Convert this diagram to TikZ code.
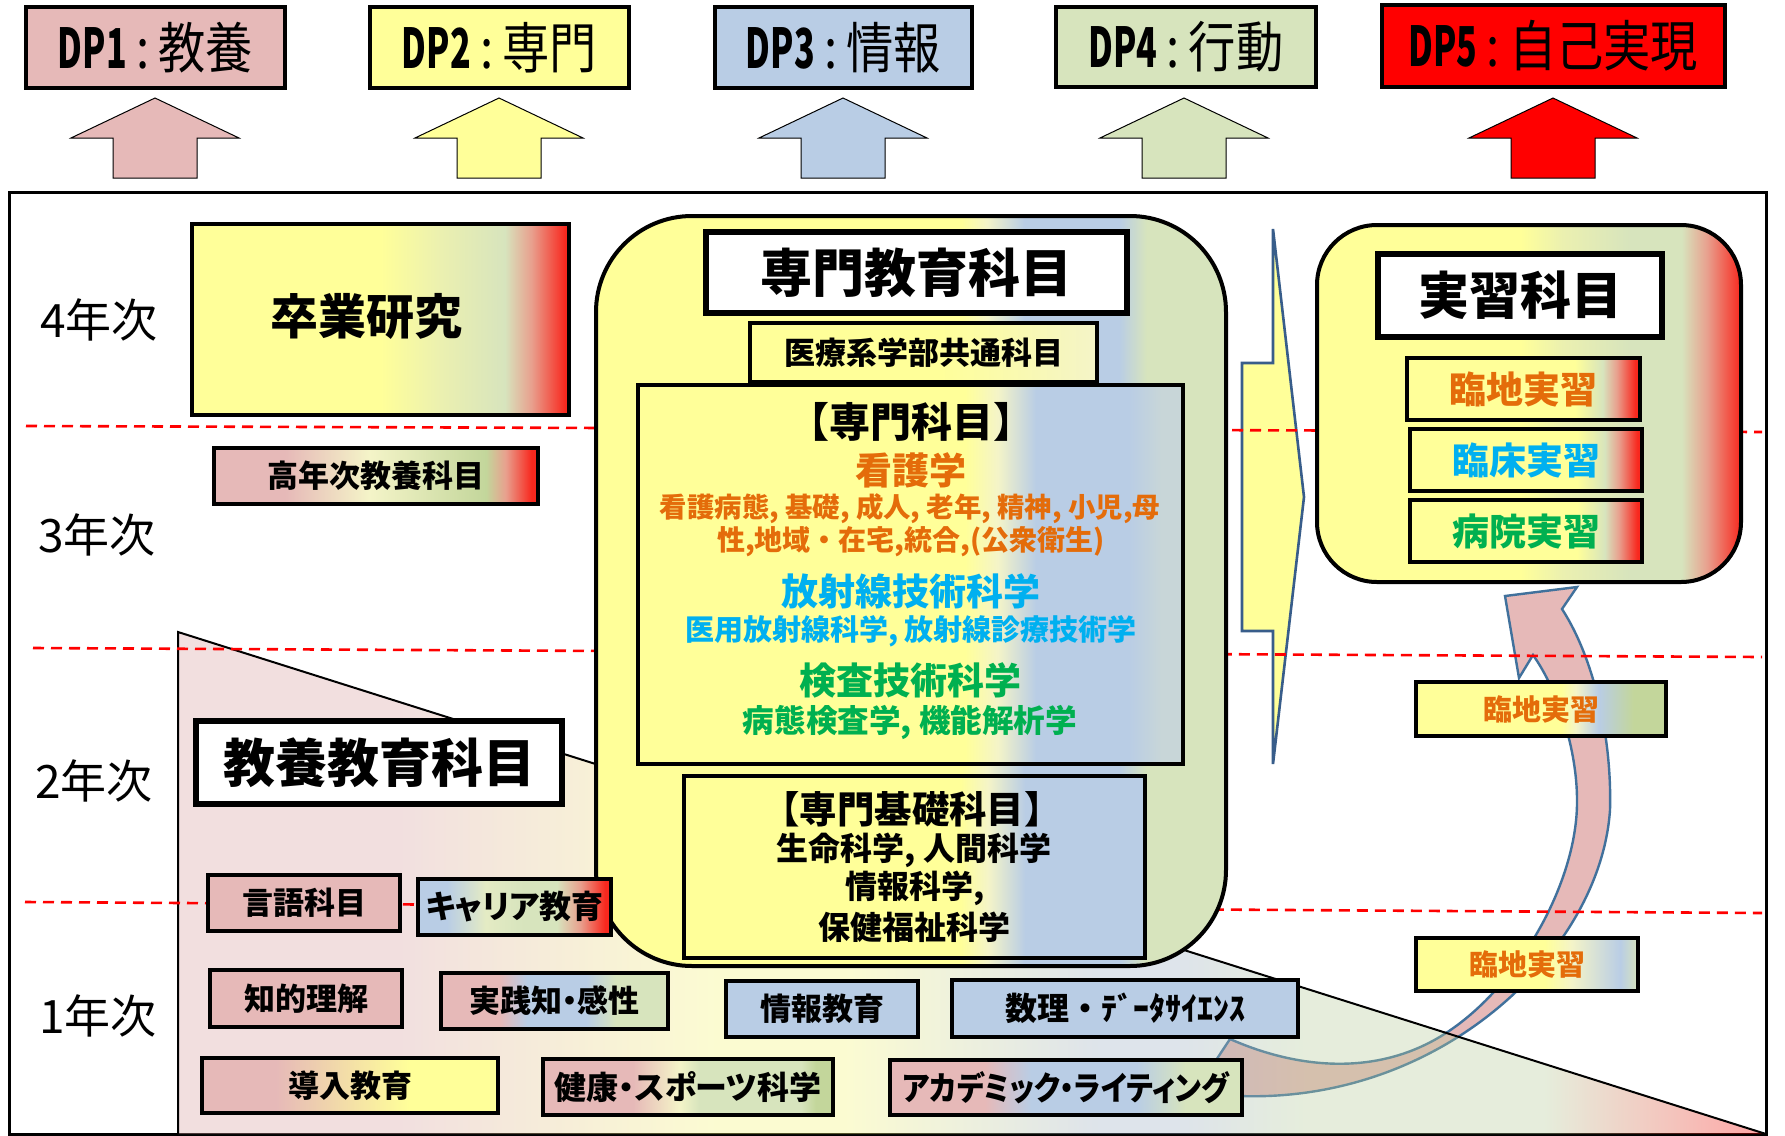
\documentclass[tikz,border=0pt]{standalone}
\usepackage{fontspec}
\usepackage{graphicx}
\setmainfont{Noto Sans CJK JP}
\newfontfamily\jpp[RawFeature=+palt]{Noto Sans CJK JP}
\newfontfamily\jpn[FakeStretch=0.86]{Noto Sans CJK JP}

\definecolor{pk}{HTML}{E6B9B8}
\definecolor{yl}{HTML}{FFFF99}
\definecolor{bl}{HTML}{B9CDE5}
\definecolor{gn}{HTML}{D7E4BD}
\definecolor{gnb}{HTML}{C3D69B}
\definecolor{rd}{HTML}{FF0000}
\definecolor{rdb}{HTML}{F8281E}
\definecolor{slm}{HTML}{E8A08E}
\definecolor{lt}{HTML}{F4F4C8}
\definecolor{ylg}{HTML}{EBF0B0}
\definecolor{ylgb}{HTML}{E4EBC4}
\definecolor{bgy}{HTML}{C8D6D8}
\definecolor{tpk}{HTML}{DAA6A6}
\definecolor{tyl}{HTML}{F6F67E}
\definecolor{tbl}{HTML}{A1B2C6}
\definecolor{tgn}{HTML}{B8CE9B}
\definecolor{orn}{HTML}{E46C0A}
\definecolor{cyn}{HTML}{00B0F0}
\definecolor{grn}{HTML}{00B050}
\definecolor{abl}{HTML}{41719C}
\definecolor{chv}{HTML}{385D8A}
\definecolor{dashred}{HTML}{FF0000}

\pgfdeclarehorizontalshading{shSotsu}{100bp}{color(0bp)=(yl); color(50bp)=(yl); color(58bp)=(ylg); color(66.5bp)=(gn); color(70bp)=(slm); color(74.5bp)=(rdb); color(100bp)=(rdb)}
\pgfdeclarehorizontalshading{shKounen}{100bp}{color(0bp)=(pk); color(36bp)=(pk); color(49bp)=(lt); color(67bp)=(gnb); color(70bp)=(slm); color(74bp)=(rdb); color(100bp)=(rdb)}
\pgfdeclarehorizontalshading{shSenmon}{100bp}{color(0bp)=(yl); color(54bp)=(yl); color(56bp)=(lt); color(59bp)=(bl); color(66.5bp)=(bl); color(68.7bp)=(gn); color(100bp)=(gn)}
\pgfdeclarehorizontalshading{shIryo}{100bp}{color(0bp)=(yl); color(52bp)=(yl); color(75bp)=(lt); color(100bp)=(lt)}
\pgfdeclarehorizontalshading{shSenka}{100bp}{color(0bp)=(yl); color(55bp)=(yl); color(58bp)=(lt); color(61.5bp)=(bl); color(70bp)=(bl); color(73bp)=(bgy); color(100bp)=(bgy)}
\pgfdeclarehorizontalshading{shKiso}{100bp}{color(0bp)=(yl); color(55bp)=(yl); color(58bp)=(lt); color(62bp)=(bl); color(100bp)=(bl)}
\pgfdeclarehorizontalshading{shAcad}{100bp}{color(0bp)=(pk); color(38.5bp)=(pk); color(45bp)=(bl); color(60bp)=(bl); color(67bp)=(gn); color(100bp)=(gn)}
\pgfdeclarehorizontalshading{shKenko}{100bp}{color(0bp)=(pk); color(40.5bp)=(pk); color(48.5bp)=(lt); color(52bp)=(gn); color(69.5bp)=(gn); color(72bp)=(gnb); color(100bp)=(gnb)}
\pgfdeclarehorizontalshading{shJissen}{100bp}{color(0bp)=(pk); color(38bp)=(pk); color(44bp)=(bl); color(57bp)=(bl); color(63.5bp)=(gn); color(100bp)=(gn)}
\pgfdeclarehorizontalshading{shDonyu}{100bp}{color(0bp)=(pk); color(37.5bp)=(pk); color(60bp)=(yl); color(100bp)=(yl)}
\pgfdeclarehorizontalshading{shCareer}{100bp}{color(0bp)=(bl); color(32.5bp)=(bl); color(42.5bp)=(ylgb); color(52.5bp)=(gn); color(61bp)=(gn); color(67bp)=(slm); color(73.5bp)=(rdb); color(100bp)=(rdb)}
\pgfdeclarehorizontalshading{shJisshu}{100bp}{color(0bp)=(yl); color(49bp)=(yl); color(54bp)=(ylg); color(62bp)=(gn); color(68bp)=(gn); color(71bp)=(slm); color(75bp)=(rdb); color(100bp)=(rdb)}
\pgfdeclarehorizontalshading{shRin}{100bp}{color(0bp)=(yl); color(61bp)=(yl); color(67bp)=(gn); color(70bp)=(slm); color(74bp)=(rdb); color(100bp)=(rdb)}
\pgfdeclarehorizontalshading{shRinB}{100bp}{color(0bp)=(yl); color(54bp)=(yl); color(57bp)=(lt); color(61.5bp)=(bl); color(68.5bp)=(gnb); color(100bp)=(gnb)}
\pgfdeclarehorizontalshading{shRinC}{100bp}{color(0bp)=(yl); color(54bp)=(yl); color(60bp)=(lt); color(71bp)=(bl); color(75bp)=(gn); color(100bp)=(gn)}
\pgfdeclarehorizontalshading{shTrap}{100bp}{color(0bp)=(tpk); color(32bp)=(tpk); color(42bp)=(tyl); color(46bp)=(tyl); color(54bp)=(tbl); color(56.5bp)=(tbl); color(60.5bp)=(tgn); color(68bp)=(tgn); color(75bp)=(rd); color(100bp)=(rd)}

% box: name, x1, y1, x2, y2, style, text  (pixel coordinates)
\newcommand{\bx}[7]{\node[#6,inner sep=0pt,outer sep=0pt,minimum width={(#4-#2)*0.5pt},minimum height={(#5-#3)*0.5pt}] (#1) at ({(#2+#4)/2},{(#3+#5)/2}) {#7};}
\newcommand{\uparr}[2]{\draw[upar,fill=#2] (#1,98) -- ({#1+84},138) -- ({#1+42},138) -- ({#1+42},178) -- ({#1-42},178) -- ({#1-42},138) -- ({#1-84},138) -- cycle;}
\newcommand{\dptext}[2]{{\bfseries\scalebox{0.72}[1]{DP#1}}\,:\,#2}

\begin{document}
\begin{tikzpicture}[x=0.5pt,y=-0.5pt,
  bxs/.style={draw=black,line width=1.7pt},
  ttl/.style={draw=black,line width=2.6pt,fill=white},
  cont/.style={draw=black,line width=2pt},
  dpb/.style={draw=black,line width=2.3pt,font=\jpn\fontsize{27.5pt}{30pt}\selectfont},
  upar/.style={draw=black,line width=0.5pt},
  sm/.style={font=\bfseries\fontsize{15.5pt}{18pt}\selectfont},
  yr/.style={font=\fontsize{23pt}{26pt}\selectfont,inner sep=0pt},
  dl/.style={draw=dashred,line width=1.3pt,dash pattern=on 5.5pt off 3.5pt},
  tx/.style={inner sep=0pt,align=center}
]
\useasboundingbox (0,0) rectangle (1785,1136);
\fill[white] (0,0) rectangle (1785,1136);

% DP boxes
\bx{dp1}{26}{7}{285}{88}{dpb,fill=pk}{\dptext{1}{教養}}
\bx{dp2}{370}{7}{629}{88}{dpb,fill=yl}{\dptext{2}{専門}}
\bx{dp3}{715}{7}{972}{88}{dpb,fill=bl}{\dptext{3}{情報}}
\bx{dp4}{1056}{7}{1316}{87}{dpb,fill=gn}{\dptext{4}{行動}}
\bx{dp5}{1382}{5}{1725}{87}{dpb,fill=rd}{\dptext{5}{自己実現}}

% up block arrows
\uparr{155}{pk}
\uparr{499}{yl}
\uparr{843}{bl}
\uparr{1184}{gn}
\uparr{1553}{rd}

% frame
\draw[line width=1.5pt] (9,192) rectangle (1766,1134);

% curved arrow (behind the general-education wedge)
\draw[draw=abl,line width=1.2pt,fill=pk] (1505,596) -- (1577,587) -- (1562,609)
  .. controls (1595,660) and (1612,740) .. (1610,810)
  .. controls (1600,960) and (1420,1125) .. (1195,1092)
  -- (1230,1039)
  .. controls (1300,1070) and (1380,1076) .. (1446,1033)
  .. controls (1520,985) and (1578,880) .. (1577,800)
  .. controls (1577,750) and (1558,690) .. (1533,655)
  -- (1519,678) -- cycle;

% general education wedge
\shade[shading=shTrap,fill opacity=0.35] (178,632) -- (1766,1134) -- (178,1134) -- cycle;
\draw[line width=1pt] (178,1134) -- (178,632) -- (1766,1134);

% chevron arrow
\draw[draw=chv,line width=1.3pt,fill=yl] (1273,229) -- (1304,497) -- (1273,764) -- (1273,631) -- (1242,631) -- (1242,363) -- (1273,363) -- cycle;

% year separators
\draw[dl] (26,426) -- (1762,432);
\draw[dl] (33,648) -- (1762,657);
\draw[dl] (25,902) -- (1762,913);

% year labels
\node[yr] (y4) at (99,320) {4年次};
\node[yr] (y3) at (97,535) {3年次};
\node[yr] (y2) at (94,781) {2年次};
\node[yr] (y1) at (98,1016) {1年次};

% graduation research
\bx{sotsu}{192}{224}{569}{415}{draw=black,line width=2pt,shade,shading=shSotsu}{}
\node[tx,font=\bfseries\fontsize{24pt}{28pt}\selectfont] (tsotsu) at (366,316) {卒業研究};
\bx{kounen}{214}{448}{538}{504}{bxs,shade,shading=shKounen,sm}{高年次教養科目}

% specialised education container
\bx{senmon}{596}{216}{1226}{966}{cont,rounded corners=48pt,shade,shading=shSenmon}{}
\bx{senmonT}{706}{232}{1127}{313}{ttl,font=\bfseries\fontsize{26pt}{30pt}\selectfont}{専門教育科目}
\bx{iryo}{750}{323}{1097}{382}{bxs,shade,shading=shIryo,sm}{医療系学部共通科目}
\bx{senka}{638}{385}{1183}{764}{bxs,shade,shading=shSenka}{}
\node[tx,font=\bfseries\fontsize{20.5pt}{22pt}\selectfont] (tsenka) at (911,422) {【専門科目】};
\node[tx,text=orn,font=\bfseries\fontsize{18.5pt}{20pt}\selectfont] (tkango) at (911,470) {看護学};
\node[tx,text=orn,font=\bfseries\fontsize{13.7pt}{16pt}\selectfont] (tkango1) at (910,509) {看護病態, 基礎, 成人, 老年, 精神, 小児,母};
\node[tx,text=orn,font=\bfseries\fontsize{14pt}{16pt}\selectfont] (tkango2) at (911,542) {性,地域・在宅,統合,(公衆衛生)};
\node[tx,text=cyn,font=\bfseries\fontsize{18.5pt}{20pt}\selectfont] (thosha) at (911,591) {放射線技術科学};
\node[tx,text=cyn,font=\bfseries\fontsize{14.5pt}{16pt}\selectfont] (thosha1) at (911,631) {医用放射線科学, 放射線診療技術学};
\node[tx,text=grn,font=\bfseries\fontsize{18.5pt}{20pt}\selectfont] (tkensa) at (910,680) {検査技術科学};
\node[tx,text=grn,font=\bfseries\fontsize{15.8pt}{17pt}\selectfont] (tkensa1) at (910,722) {病態検査学, 機能解析学};
\bx{kiso}{684}{776}{1145}{958}{bxs,shade,shading=shKiso}{}
\node[tx,font=\bfseries\fontsize{18.7pt}{20pt}\selectfont] (tkiso) at (912,809) {【専門基礎科目】};
\node[tx,font=\bfseries\fontsize{16pt}{18pt}\selectfont] (tkiso1) at (914,850) {生命科学, 人間科学};
\node[tx,font=\bfseries\fontsize{16pt}{18pt}\selectfont] (tkiso2) at (915,888) {情報科学,};
\node[tx,font=\bfseries\fontsize{16pt}{18pt}\selectfont] (tkiso3) at (914,927) {保健福祉科学};

% practical training container
\bx{jisshu}{1317}{225}{1741}{582}{cont,rounded corners=30pt,shade,shading=shJisshu}{}
\bx{jisshuT}{1378}{254}{1662}{337}{ttl,font=\bfseries\fontsize{25.5pt}{30pt}\selectfont}{実習科目}
\bx{rin1}{1407}{358}{1640}{420}{bxs,shade,shading=shRin,text=orn,font=\bfseries\fontsize{18.5pt}{20pt}\selectfont}{臨地実習}
\bx{rin2}{1410}{429}{1642}{491}{bxs,shade,shading=shRin,text=cyn,font=\bfseries\fontsize{18.5pt}{20pt}\selectfont}{臨床実習}
\bx{rin3}{1410}{500}{1642}{562}{bxs,shade,shading=shRin,text=grn,font=\bfseries\fontsize{18.5pt}{20pt}\selectfont}{病院実習}
\bx{rinB}{1416}{682}{1666}{736}{bxs,shade,shading=shRinB,text=orn,font=\bfseries\fontsize{14.5pt}{16pt}\selectfont}{臨地実習}
\bx{rinC}{1416}{938}{1638}{991}{bxs,shade,shading=shRinC,text=orn,font=\bfseries\fontsize{14.5pt}{16pt}\selectfont}{臨地実習}

% general education
\bx{kyoyoT}{196}{721}{562}{804}{ttl,font=\bfseries\fontsize{26pt}{30pt}\selectfont}{教養教育科目}
\bx{gengo}{208}{875}{400}{931}{bxs,fill=pk,sm}{言語科目}
\bx{career}{418}{879}{611}{935}{bxs,shade,shading=shCareer,font=\jpp\bfseries\fontsize{16pt}{18pt}\selectfont}{キャリア教育}
\bx{chiteki}{210}{970}{402}{1027}{bxs,fill=pk,sm}{知的理解}
\bx{jissen}{441}{973}{668}{1029}{bxs,shade,shading=shJissen,font=\jpp\bfseries\fontsize{15.5pt}{18pt}\selectfont}{実践知・感性}
\bx{johoK}{726}{981}{918}{1037}{bxs,fill=bl,sm}{情報教育}
\bx{suri}{952}{980}{1298}{1037}{bxs,fill=bl,font=\bfseries\fontsize{16pt}{18pt}\selectfont}{数理・ﾃﾞｰﾀｻｲｴﾝｽ}
\bx{donyu}{202}{1058}{498}{1113}{bxs,shade,shading=shDonyu,sm}{導入教育}
\bx{kenko}{543}{1059}{833}{1115}{bxs,shade,shading=shKenko,font=\jpp\bfseries\fontsize{16pt}{18pt}\selectfont}{健康・スポーツ科学}
\bx{acad}{890}{1060}{1242}{1115}{bxs,shade,shading=shAcad,font=\jpp\bfseries\fontsize{16.5pt}{18pt}\selectfont}{\scalebox{0.88}[1]{アカデミック・ライティング}}
\end{tikzpicture}
\end{document}
